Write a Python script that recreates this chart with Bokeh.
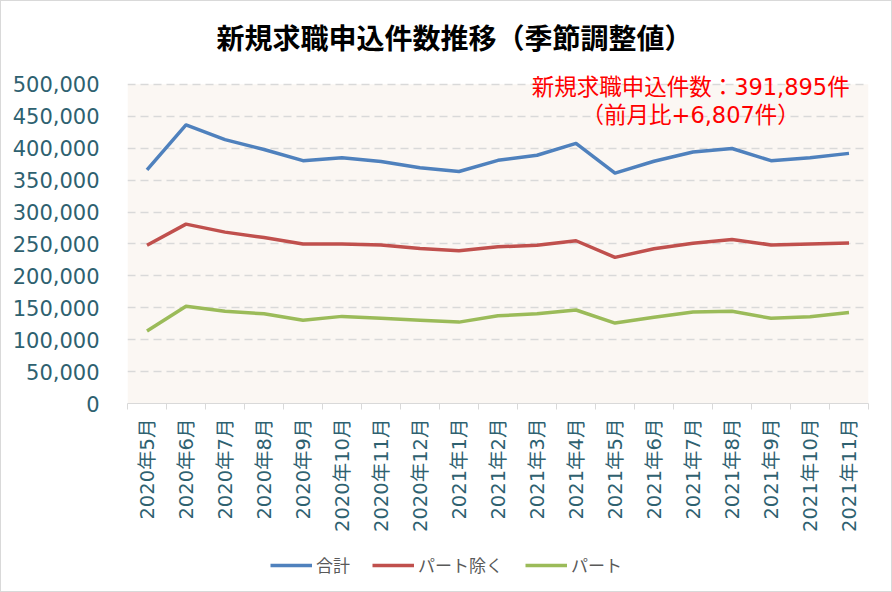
import math
from bokeh.plotting import figure
from bokeh.layouts import column
from bokeh.models import (FixedTicker, NumeralTickFormatter, Range1d, Label, Legend, LegendItem,
                          BoxAnnotation)
from bokeh.embed import file_html
from bokeh.resources import INLINE

months = ["2020年5月", "2020年6月", "2020年7月", "2020年8月", "2020年9月", "2020年10月",
          "2020年11月", "2020年12月", "2021年1月", "2021年2月", "2021年3月", "2021年4月",
          "2021年5月", "2021年6月", "2021年7月", "2021年8月", "2021年9月", "2021年10月",
          "2021年11月"]
total = [366000, 436500, 413500, 398000, 380500, 385000, 379000, 369500, 363500, 381000,
         389000, 407500, 361000, 379500, 394000, 399500, 380500, 385088, 391895]
part_excl = [248000, 281000, 268500, 260000, 250000, 250000, 248500, 243000, 239500, 245500,
             248000, 255000, 229000, 242500, 251000, 257000, 248500, 250000, 251500]
part = [113500, 152500, 144500, 140500, 130500, 136500, 133500, 130500, 127500, 137500,
        140500, 146500, 126000, 135000, 143500, 144500, 133500, 136000, 142500]
series_names = ["合計", "パート除く", "パート"]
series_colors = ["#4F81BD", "#C0504D", "#9BBB59"]
y_ticks = list(range(0, 500001, 50000))
title_text = "新規求職申込件数推移（季節調整値）"
note_line1 = "新規求職申込件数：391,895件"
note_line2 = "（前月比+6,807件）"

FONT = "Noto Sans CJK JP"
MIX_FONT = "DejaVu Sans, Noto Sans CJK JP"
LABEL_COLOR = "#2E6170"
Y_TOP = 500000
Y_VIEW_TOP = 523300

xs = list(range(len(months)))

p = figure(width=890, height=548, output_backend="svg", toolbar_location=None,
           x_range=Range1d(-0.5, len(months) - 0.5), y_range=Range1d(0, Y_VIEW_TOP),
           min_border_left=126, min_border_right=23, min_border_top=65, min_border_bottom=146)

p.background_fill_color = "white"
p.border_fill_color = "white"
p.outline_line_color = None

p.add_layout(BoxAnnotation(bottom=0, top=Y_TOP, fill_color="#FBF7F3", fill_alpha=1,
                           line_color=None, level="image"))

p.title.text = title_text
p.title.text_font = FONT
p.title.text_font_size = "28px"
p.title.text_font_style = "bold"
p.title.text_color = "black"
p.title.align = "left"
p.title.offset = 89
p.title.standoff = 26

# x axis
p.xaxis.ticker = FixedTicker(ticks=xs, minor_ticks=[i - 0.5 for i in range(len(months) + 1)])
p.xaxis.major_label_overrides = {i: m for i, m in enumerate(months)}
p.xaxis.major_label_orientation = math.pi / 2
p.xaxis.major_label_text_font = MIX_FONT
p.xaxis.major_label_text_font_size = "19.5px"
p.xaxis.major_label_text_color = LABEL_COLOR
p.xaxis.major_tick_line_color = None
p.xaxis.minor_tick_line_color = "#D9D9D9"
p.xaxis.minor_tick_out = 6
p.xaxis.minor_tick_in = 0
p.xaxis.axis_line_color = "#D9D9D9"
p.xaxis.major_label_standoff = 9
p.xgrid.grid_line_color = None

# y axis
p.yaxis.ticker = FixedTicker(ticks=y_ticks)
p.yaxis.formatter = NumeralTickFormatter(format="0,0")
p.yaxis.major_label_text_font = "DejaVu Sans"
p.yaxis.major_label_text_font_size = "21px"
p.yaxis.major_label_text_color = LABEL_COLOR
p.yaxis.axis_line_color = None
p.yaxis.major_tick_line_color = None
p.yaxis.minor_tick_line_color = None
p.yaxis.major_label_standoff = 22
p.ygrid.grid_line_color = "#D9D9D9"
p.ygrid.grid_line_width = 1.5
p.ygrid.grid_line_dash = "8 5"

for vals, color in zip([total, part_excl, part], series_colors):
    p.line(xs, vals, line_color=color, line_width=3.5, line_join="round")

for txt, yv in [(note_line1, 495400), (note_line2, 451900)]:
    p.add_layout(Label(x=13.94, y=yv, text=txt, text_align="center", text_baseline="middle",
                       text_font=MIX_FONT, text_font_size="22.5px", text_color="#FF0000"))

# legend strip below the chart (series drawn out of view; only their legend keys show)
lf = figure(width=890, height=42, output_backend="svg", toolbar_location=None,
            x_range=Range1d(-0.5, len(months) - 0.5), y_range=Range1d(-2, -1),
            x_axis_location=None, y_axis_location=None,
            min_border_left=0, min_border_right=0, min_border_top=0, min_border_bottom=0)
lf.outline_line_color = None
lf.xgrid.grid_line_color = None
lf.ygrid.grid_line_color = None
lf.background_fill_color = "white"
lf.border_fill_color = "white"
leg_renderers = [lf.line(xs, vals, line_color=c, line_width=3.5)
                 for vals, c in zip([total, part_excl, part], series_colors)]

legend = Legend(items=[LegendItem(label=n, renderers=[r]) for n, r in zip(series_names, leg_renderers)],
                orientation="horizontal", location=(143, 14))
legend.label_text_font = FONT
legend.label_text_font_size = "17px"
legend.label_text_color = "#595959"
legend.glyph_width = 42
legend.label_standoff = 4
legend.spacing = 22
legend.padding = 0
legend.margin = 0
legend.background_fill_alpha = 0
legend.border_line_color = None
lf.add_layout(legend, "center")

layout = column(p, lf, spacing=0)
layout.styles = {"border": "1px solid #D9D9D9"}

open("out.html", "w").write(file_html(layout, INLINE))
